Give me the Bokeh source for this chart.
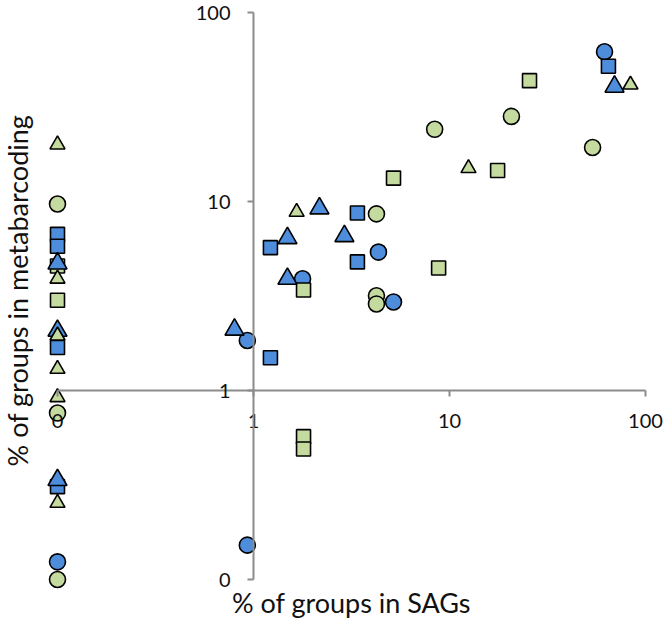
import math
from bokeh.plotting import figure
from bokeh.models import LogAxis, FixedTicker, CustomJSTickFormatter, Range1d, Label
from bokeh.embed import file_html
from bokeh.resources import INLINE

# ---- data ----
blue_circle_x = [0.1, 0.93, 0.93, 1.78, 4.34, 5.18, 61.8]
blue_circle_y = [0.124, 1.84, 0.152, 3.9, 5.4, 2.94, 62]

green_circle_x = [0.1, 0.1, 0.1, 4.24, 4.24, 4.24, 8.4, 20.7, 53.7]
green_circle_y = [9.7, 0.76, 0.1, 8.6, 3.17, 2.87, 24.1, 28.2, 19.3]

blue_square_x = [0.1, 0.1, 0.1, 0.1, 1.22, 1.22, 3.39, 3.39, 64.7]
blue_square_y = [6.7, 5.8, 1.69, 0.31, 5.7, 1.49, 8.7, 4.79, 52]

green_square_x = [0.1, 0.1, 1.80, 1.80, 1.80, 5.18, 8.8, 17.6, 25.6]
green_square_y = [4.56, 3.0, 3.4, 0.57, 0.49, 13.3, 4.45, 14.6, 43.6]

blue_triangle_x = [0.1, 0.1, 0.1, 0.80, 1.49, 1.49, 2.17, 2.91, 69.5]
blue_triangle_y = [4.7, 2.07, 0.336, 2.1, 6.4, 3.9, 9.2, 6.56, 40.5]

green_triangle_x = [0.1, 0.1, 0.1, 0.1, 0.1, 0.1, 1.66, 12.5, 83.8]
green_triangle_y = [20, 3.9, 1.95, 1.3, 0.92, 0.254, 8.8, 15.0, 41.5]

ticks = [0.1, 1, 10, 100]
x_title = "% of groups in SAGs"
y_title = "% of groups in metabarcoding"

BLUE = "#4d8ddb"
GREEN = "#c5da9e"
AXIS = "#8c8c8c"
FONT = "Lato"

W, H = 664, 618
X0, XD = 57, 196            # pixel of 0.1 and pixels per decade (x)
Y0, Y100 = 579, 12          # pixel rows of 0.1 and 100 (y)
YD = (Y0 - Y100) / 3.0
p = figure(width=W, height=H, output_backend="svg", toolbar_location=None,
           x_axis_type="log", y_axis_type="log",
           x_axis_location=None, y_axis_location=None,
           x_range=Range1d(10 ** (-1 - X0 / XD), 10 ** (-1 + (W - X0) / XD)),
           y_range=Range1d(10 ** (-1 - (H - Y0) / YD), 10 ** (-1 + Y0 / YD)),
           min_border=0, outline_line_color=None)
p.grid.visible = False
p.background_fill_color = "white"
p.border_fill_color = "white"

fmt = CustomJSTickFormatter(code="return tick < 0.5 ? '0' : tick.toFixed(0);")

def style(ax, standoff):
    ax.ticker = FixedTicker(ticks=ticks)
    ax.formatter = fmt
    ax.bounds = (0.1, 100)
    ax.axis_line_color = AXIS
    ax.axis_line_width = 2
    ax.major_tick_line_color = AXIS
    ax.major_tick_line_width = 2
    ax.major_tick_out = 6
    ax.major_tick_in = 0
    ax.minor_tick_out = 0
    ax.minor_tick_in = 0
    ax.major_label_text_font = FONT
    ax.major_label_text_font_size = "20px"
    ax.major_label_text_color = "#111111"
    ax.major_label_standoff = standoff

xa = LogAxis(fixed_location=1)
style(xa, 17)
ya = LogAxis(fixed_location=1)
style(ya, 17)
p.add_layout(xa, "below")
p.add_layout(ya, "left")

common = dict(line_color="black", line_width=1.6)
p.scatter(blue_circle_x, blue_circle_y, marker="circle", size=16, fill_color=BLUE, **common)
p.scatter(green_circle_x, green_circle_y, marker="circle", size=16, fill_color=GREEN, **common)
p.scatter(blue_square_x, blue_square_y, marker="square", size=14, fill_color=BLUE, **common)
p.scatter(green_square_x, green_square_y, marker="square", size=14, fill_color=GREEN, **common)
p.scatter(blue_triangle_x, blue_triangle_y, marker="triangle", size=19, fill_color=BLUE, **common)
p.scatter(green_triangle_x, green_triangle_y, marker="triangle", size=15, fill_color=GREEN, **common)

p.add_layout(Label(x=351, y=H - 602, x_units="screen", y_units="screen", text=x_title,
                   text_font=FONT, text_font_size="27px", text_align="center",
                   text_baseline="middle", text_color="#111111"))
p.add_layout(Label(x=17, y=H - 290, x_units="screen", y_units="screen", text=y_title,
                   angle=math.pi / 2, text_font=FONT, text_font_size="27px",
                   text_align="center", text_baseline="middle", text_color="#111111"))

open("out.html", "w").write(file_html(p, INLINE))
